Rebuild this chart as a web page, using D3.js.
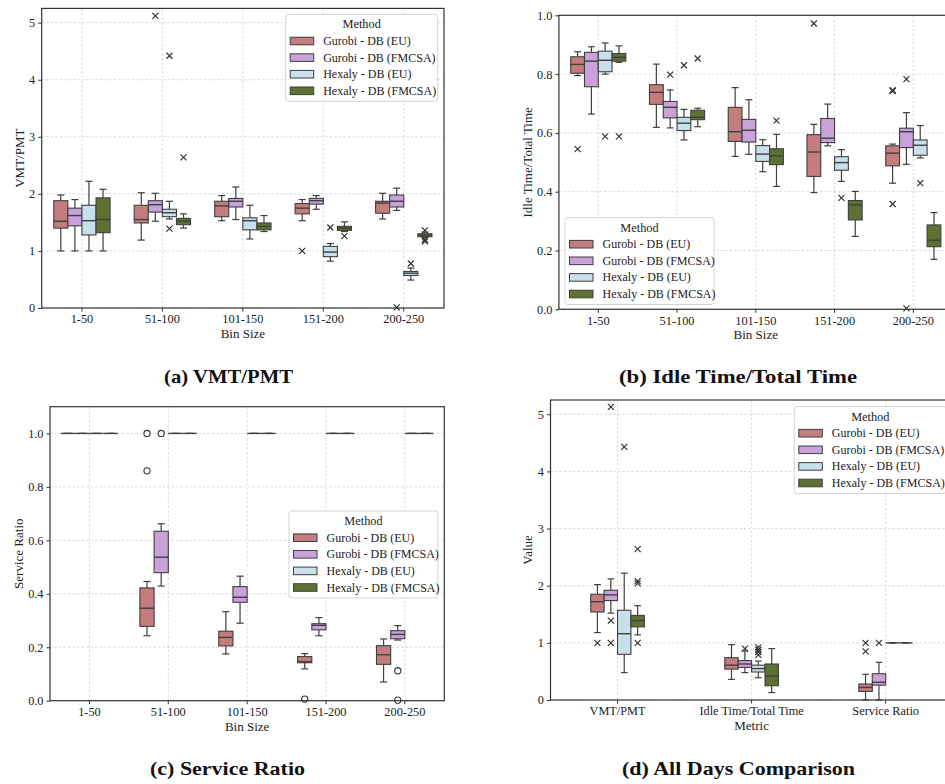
<!DOCTYPE html>
<html lang="en">
<head>
<meta charset="utf-8">
<script src="https://d3js.org/d3.v7.min.js"></script>
<style>
  body { margin: 0; background: #fff; }
  text { font-family: "Liberation Serif", "DejaVu Serif", serif; fill: #222; }
</style>
</head>
<body>
<script>
// ---- data ----
const methods = ["Gurobi - DB (EU)", "Gurobi - DB (FMCSA)", "Hexaly - DB (EU)", "Hexaly - DB (FMCSA)"];
const colors = ["#c47c7e", "#c9a2db", "#c8e0eb", "#5f7132"];
const bins = ["1-50", "51-100", "101-150", "151-200", "200-250"];
const metrics = ["VMT/PMT", "Idle Time/Total Time", "Service Ratio"];

// each row: [whisker low, q1, median, q3, whisker high], one row per bin
const vmtBoxes = [
  [[1.00,1.40,1.52,1.88,1.98],[1.19,1.49,1.55,1.80,2.02],[1.53,1.60,1.79,1.87,1.97],[1.53,1.65,1.75,1.83,1.90],[1.56,1.66,1.84,1.87,2.01]],
  [[1.00,1.44,1.62,1.75,1.90],[1.52,1.68,1.81,1.88,2.01],[1.55,1.77,1.87,1.92,2.12],[1.73,1.82,1.88,1.92,1.97],[1.71,1.77,1.87,1.98,2.10]],
  [[1.00,1.28,1.53,1.80,2.22],[1.56,1.60,1.67,1.73,1.87],[1.21,1.37,1.53,1.58,1.80],[0.82,0.90,0.98,1.08,1.13],[0.49,0.57,0.61,0.64,0.70]],
  [[1.00,1.32,1.55,1.93,2.08],[1.40,1.46,1.52,1.57,1.65],[1.34,1.37,1.43,1.49,1.62],[1.34,1.36,1.40,1.43,1.51],[1.24,1.25,1.28,1.30,1.33]]
];
// outliers: [bin index, value]
const vmtOutliers = [
  [[3,1.00]],
  [[1,5.12],[4,0.01]],
  [[1,4.42],[1,1.39],[3,1.41],[4,0.78]],
  [[1,2.64],[3,1.26],[4,1.36],[4,1.20],[4,1.17]]
];

const idleBoxes = [
  [[0.795,0.803,0.833,0.859,0.876],[0.619,0.697,0.738,0.764,0.834],[0.520,0.571,0.604,0.687,0.754],[0.397,0.452,0.535,0.594,0.629],[0.429,0.488,0.531,0.556,0.562]],
  [[0.664,0.757,0.844,0.874,0.893],[0.617,0.651,0.687,0.707,0.746],[0.527,0.569,0.609,0.646,0.713],[0.556,0.567,0.582,0.649,0.698],[0.493,0.550,0.604,0.616,0.669]],
  [[0.800,0.808,0.847,0.878,0.906],[0.576,0.608,0.633,0.653,0.680],[0.468,0.503,0.528,0.557,0.577],[0.435,0.473,0.499,0.519,0.543],[0.515,0.524,0.558,0.576,0.625]],
  [[0.840,0.844,0.857,0.870,0.896],[0.621,0.645,0.653,0.677,0.684],[0.418,0.492,0.522,0.546,0.595],[0.248,0.304,0.355,0.370,0.401],[0.170,0.213,0.235,0.287,0.329]]
];
const idleOutliers = [
  [[0,0.545],[3,0.972],[4,0.742],[4,0.745],[4,0.358]],
  [[1,0.798],[4,0.783],[4,0.003]],
  [[0,0.588],[1,0.830],[3,0.379],[4,0.429]],
  [[0,0.588],[1,0.853],[2,0.642]]
];

const serviceBoxes = [
  [[1,1,1,1,1],[0.243,0.278,0.346,0.422,0.446],[0.175,0.205,0.237,0.260,0.333],[0.119,0.142,0.146,0.165,0.176],[0.070,0.136,0.172,0.206,0.231]],
  [[1,1,1,1,1],[0.429,0.479,0.537,0.634,0.662],[0.290,0.368,0.387,0.427,0.466],[0.243,0.265,0.282,0.288,0.311],[0.227,0.232,0.248,0.262,0.281]],
  [[1,1,1,1,1],[1,1,1,1,1],[1,1,1,1,1],[1,1,1,1,1],[1,1,1,1,1]],
  [[1,1,1,1,1],[1,1,1,1,1],[1,1,1,1,1],[1,1,1,1,1],[1,1,1,1,1]]
];
const serviceOutliers = [
  [[1,1.0],[1,0.860],[3,0.006]],
  [[1,1.0],[4,0.112],[4,0.002]],
  [],
  []
];

const allBoxes = [
  [[1.18,1.54,1.72,1.85,2.02],[0.36,0.54,0.61,0.74,0.97],[0.00,0.15,0.22,0.28,0.45]],
  [[1.52,1.74,1.84,1.92,2.12],[0.48,0.57,0.63,0.69,0.86],[0.00,0.26,0.31,0.46,0.66]],
  [[0.48,0.80,1.16,1.57,2.22],[0.39,0.49,0.55,0.61,0.68],[1,1,1,1,1]],
  [[1.14,1.28,1.39,1.48,1.65],[0.13,0.25,0.42,0.63,0.90],[1,1,1,1,1]]
];
const allOutliers = [
  [[0,1.0],[2,1.0],[2,0.85]],
  [[0,5.13],[0,1.39],[0,1.0],[1,0.90],[2,1.0]],
  [[0,4.43],[1,0.92],[1,0.88],[1,0.84],[1,0.79]],
  [[0,2.64],[0,2.08],[0,2.04],[0,1.0]]
];

const intTicks = [0, 1, 2, 3, 4, 5];
const fracTicks = [0, 0.2, 0.4, 0.6, 0.8, 1.0];

// ---- drawing ----
const edge = "#3f3f3f";
const svg = d3.select("body").append("svg").attr("width", 945).attr("height", 784);

function drawPanel(p) {
  const g = svg.append("g");
  const x = d3.scaleBand().domain(p.cats).range([p.left, p.right]).padding(0);
  const y = d3.scaleLinear().domain(p.yDomain).range([p.bottom, p.top]);
  const half = x.bandwidth() * p.groupFrac / 2;
  const inner = d3.scaleBand().domain(methods).range([-half, half]);
  const bw = inner.bandwidth();

  // grid
  g.selectAll(".hgrid").data(p.yTicks).enter().append("line")
    .attr("x1", p.left).attr("x2", p.right)
    .attr("y1", d => y(d)).attr("y2", d => y(d))
    .attr("stroke", "#cfcfcf").attr("stroke-width", 0.8).attr("stroke-dasharray", "2.5,2");
  g.selectAll(".vgrid").data(p.cats).enter().append("line")
    .attr("x1", d => x(d) + x.bandwidth() / 2).attr("x2", d => x(d) + x.bandwidth() / 2)
    .attr("y1", p.top).attr("y2", p.bottom)
    .attr("stroke", "#cfcfcf").attr("stroke-width", 0.8).attr("stroke-dasharray", "2.5,2");

  // boxes
  methods.forEach((m, mi) => {
    p.boxes[mi].forEach((s, ci) => {
      const cx = x(p.cats[ci]) + x.bandwidth() / 2 + inner(m) + bw / 2;
      const [lo, q1, med, q3, hi] = s;
      const bg = g.append("g");
      bg.append("line").attr("x1", cx).attr("x2", cx).attr("y1", y(q3)).attr("y2", y(hi));
      bg.append("line").attr("x1", cx).attr("x2", cx).attr("y1", y(q1)).attr("y2", y(lo));
      bg.append("line").attr("x1", cx - bw / 4).attr("x2", cx + bw / 4).attr("y1", y(hi)).attr("y2", y(hi));
      bg.append("line").attr("x1", cx - bw / 4).attr("x2", cx + bw / 4).attr("y1", y(lo)).attr("y2", y(lo));
      bg.selectAll("line").attr("stroke", edge).attr("stroke-width", 1.2);
      bg.append("rect").attr("x", cx - bw / 2).attr("width", bw)
        .attr("y", y(q3)).attr("height", Math.max(0, y(q1) - y(q3)))
        .attr("fill", colors[mi]).attr("stroke", edge).attr("stroke-width", 1.1);
      bg.append("line").attr("x1", cx - bw / 2).attr("x2", cx + bw / 2)
        .attr("y1", y(med)).attr("y2", y(med)).attr("stroke", edge).attr("stroke-width", 1.4);
    });
    p.outliers[mi].forEach(([ci, v]) => {
      const cx = x(p.cats[ci]) + x.bandwidth() / 2 + inner(m) + bw / 2;
      const cy = y(v);
      if (p.marker === "o") {
        g.append("circle").attr("cx", cx).attr("cy", cy).attr("r", 3.1)
          .attr("fill", "none").attr("stroke", "#333").attr("stroke-width", 1.1);
      } else {
        const r = 3;
        g.append("path")
          .attr("d", `M${cx - r},${cy - r}L${cx + r},${cy + r}M${cx - r},${cy + r}L${cx + r},${cy - r}`)
          .attr("stroke", "#333").attr("stroke-width", 1.2).attr("fill", "none");
      }
    });
  });

  // axes
  const ya = g.append("g").attr("transform", `translate(${p.left},0)`)
    .call(d3.axisLeft(y).tickValues(p.yTicks).tickFormat(p.yFormat).tickSize(3.5).tickPadding(3));
  const xa = g.append("g").attr("transform", `translate(0,${p.bottom})`)
    .call(d3.axisBottom(x).tickSize(3.5).tickPadding(3));
  [ya, xa].forEach(a => {
    a.select(".domain").remove();
    a.selectAll(".tick line").attr("stroke", "#333");
    a.selectAll("text").attr("font-size", 12.3).attr("font-family", "Liberation Serif").attr("fill", "#222");
  });

  // spines
  g.append("rect").attr("x", p.left).attr("y", p.top)
    .attr("width", p.right - p.left).attr("height", p.bottom - p.top)
    .attr("fill", "none").attr("stroke", "#333").attr("stroke-width", 1.2);

  // labels
  g.append("text").attr("x", (p.left + p.right) / 2).attr("y", p.bottom + 30)
    .attr("text-anchor", "middle").attr("font-size", 13).text(p.xLabel);
  g.append("text").attr("transform", `translate(${p.yLabelX},${(p.top + p.bottom) / 2}) rotate(-90)`)
    .attr("text-anchor", "middle").attr("font-size", 13).text(p.yLabel);

  // legend
  const L = p.legend;
  const lg = g.append("g").attr("transform", `translate(${L.x},${L.y})`);
  lg.append("rect").attr("width", L.w).attr("height", 87).attr("rx", 3)
    .attr("fill", "white").attr("fill-opacity", 0.85).attr("stroke", "#d0d0d0").attr("stroke-width", 0.9);
  lg.append("text").attr("x", L.w / 2).attr("y", 14).attr("text-anchor", "middle")
    .attr("font-size", 12.3).text("Method");
  methods.forEach((m, i) => {
    const cy = 26.7 + i * 16.6;
    lg.append("rect").attr("x", 4.5).attr("y", cy - 3.8).attr("width", 23.5).attr("height", 7.6)
      .attr("fill", colors[i]).attr("stroke", edge).attr("stroke-width", 1);
    lg.append("text").attr("x", 37.5).attr("y", cy + 4).attr("font-size", 12).text(m);
  });

  // caption
  svg.append("text").attr("x", p.capX).attr("y", p.capY).attr("text-anchor", "middle")
    .attr("font-size", 19).attr("font-weight", "bold")
    .attr("textLength", p.capW).attr("lengthAdjust", "spacingAndGlyphs")
    .style("fill", "#111").text(p.caption);
}

const fmtInt = d3.format("d");
const fmtFrac = d3.format(".1f");

drawPanel({ cats: bins, left: 41.7, right: 444, top: 8.4, bottom: 308, yDomain: [0, 5.25],
  yTicks: intTicks, yFormat: fmtInt, boxes: vmtBoxes, outliers: vmtOutliers, groupFrac: 0.7, marker: "x",
  xLabel: "Bin Size", yLabel: "VMT/PMT", yLabelX: 23.5,
  legend: { x: 285.7, y: 14.3, w: 152 },
  caption: "(a) VMT/PMT", capX: 228.5, capY: 383, capW: 129 });

drawPanel({ cats: bins, left: 558.9, right: 952.7, top: 15.3, bottom: 309.3, yDomain: [0, 1],
  yTicks: fracTicks, yFormat: fmtFrac, boxes: idleBoxes, outliers: idleOutliers, groupFrac: 0.7, marker: "x",
  xLabel: "Bin Size", yLabel: "Idle Time/Total Time", yLabelX: 531.5,
  legend: { x: 565, y: 217.5, w: 149 },
  caption: "(b) Idle Time/Total Time", capX: 738, capY: 383, capW: 238 });

drawPanel({ cats: bins, left: 50, right: 444.3, top: 406.7, bottom: 700.7, yDomain: [0, 1.1],
  yTicks: fracTicks, yFormat: fmtFrac, boxes: serviceBoxes, outliers: serviceOutliers, groupFrac: 0.72, marker: "o",
  xLabel: "Bin Size", yLabel: "Service Ratio", yLabelX: 23,
  legend: { x: 289, y: 511, w: 149 },
  caption: "(c) Service Ratio", capX: 227.5, capY: 775, capW: 155 });

drawPanel({ cats: metrics, left: 550.5, right: 952.7, top: 400, bottom: 700, yDomain: [0, 5.25],
  yTicks: intTicks, yFormat: fmtInt, boxes: allBoxes, outliers: allOutliers, groupFrac: 0.4, marker: "x",
  xLabel: "Metric", yLabel: "Value", yLabelX: 531.5,
  legend: { x: 794.3, y: 406.5, w: 152 },
  caption: "(d) All Days Comparison", capX: 738.5, capY: 775, capW: 233 });
</script>
</body>
</html>
